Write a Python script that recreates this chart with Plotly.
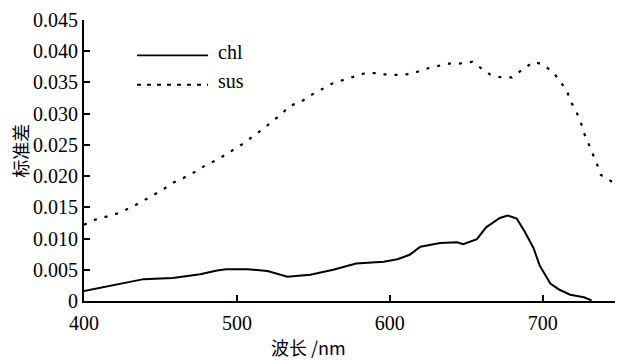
import plotly.graph_objects as go

# Data
chl_wl = [400, 410, 417, 439, 458, 476, 487, 493, 507, 520, 533, 548, 563, 578,
          596, 605, 613, 620, 633, 644, 648, 657, 663, 672, 677, 683, 688, 694,
          698, 705, 711, 718, 727, 732]
chl = [0.0016, 0.0021, 0.0024, 0.0035, 0.0037, 0.0043, 0.0049, 0.0051, 0.0051,
       0.0048, 0.0039, 0.0042, 0.0050, 0.0060, 0.0063, 0.0067, 0.0074, 0.0087,
       0.0093, 0.0094, 0.0091, 0.0099, 0.0118, 0.0133, 0.0137, 0.0132, 0.0112,
       0.0085, 0.0057, 0.0028, 0.0018, 0.0010, 0.0006, 0.0001]

sus_wl = [400, 407, 416, 423, 431, 438, 445, 452, 458, 465, 472, 480, 487, 493,
          499, 506, 511, 518, 524, 529, 534, 542, 548, 557, 563, 571, 584, 592,
          599, 607, 615, 622, 630, 638, 645, 654, 659, 666, 673, 680, 687, 694,
          700, 707, 711, 716, 718, 722, 725, 727, 730, 733, 736, 738, 744, 746]
sus = [0.0122, 0.0130, 0.0136, 0.0141, 0.0150, 0.0159, 0.0169, 0.0179, 0.0189,
       0.0197, 0.0206, 0.0218, 0.0226, 0.0235, 0.0244, 0.0255, 0.0265, 0.0277,
       0.0290, 0.0298, 0.0312, 0.0319, 0.0329, 0.0341, 0.0349, 0.0355, 0.0365,
       0.0365, 0.0362, 0.0362, 0.0364, 0.0371, 0.0376, 0.0380, 0.0380, 0.0383,
       0.0374, 0.0362, 0.0358, 0.0358, 0.0371, 0.0383, 0.0379, 0.0366, 0.0353,
       0.0336, 0.0321, 0.0303, 0.0286, 0.0269, 0.0252, 0.0235, 0.0216, 0.0202,
       0.0193, 0.0190]

x_ticks = [400, 500, 600, 700]
y_ticks = [0, 0.005, 0.010, 0.015, 0.020, 0.025, 0.030, 0.035, 0.040, 0.045]
y_tick_text = ["0", "0.005", "0.010", "0.015", "0.020", "0.025", "0.030",
               "0.035", "0.040", "0.045"]

FONT = "Liberation Serif, Times New Roman, Noto Sans CJK SC, serif"
CJK = "Noto Sans CJK SC, Liberation Serif, serif"

fig = go.Figure()
fig.add_trace(go.Scatter(x=chl_wl, y=chl, mode="lines", name="chl",
                         line=dict(color="black", width=2, dash="solid", shape="linear")))
fig.add_trace(go.Scatter(x=sus_wl, y=sus, mode="lines", name="sus",
                         line=dict(color="black", width=2.2, dash="3px,8px")))

W, H = 624, 361
L, R, T, B = 84, 9, 15, 60
pw, ph = W - L - R, H - T - B

def px(xp):
    return (xp - L) / pw

def py(yp):
    return (H - B - yp) / ph

shapes = [
    dict(type="line", xref="paper", yref="paper", x0=px(137), x1=px(208),
         y0=py(51), y1=py(51), line=dict(color="black", width=1.8)),
    dict(type="line", xref="paper", yref="paper", x0=px(137), x1=px(208),
         y0=py(81), y1=py(81), line=dict(color="black", width=2, dash="4px,6px")),
]
annotations = [
    dict(text="chl", xref="paper", yref="paper", x=px(216), y=py(48),
         xanchor="left", yanchor="middle", showarrow=False,
         font=dict(family=FONT, size=20, color="black")),
    dict(text="sus", xref="paper", yref="paper", x=px(216), y=py(77),
         xanchor="left", yanchor="middle", showarrow=False,
         font=dict(family=FONT, size=20, color="black")),
    dict(text="波长 /nm", xref="paper", yref="paper", x=px(308), y=py(348),
         xanchor="center", yanchor="middle", showarrow=False,
         font=dict(family=CJK, size=18, color="black")),
    dict(text="标准差", xref="paper", yref="paper", x=px(20), y=py(148),
         xanchor="center", yanchor="middle", showarrow=False, textangle=-90,
         font=dict(family=CJK, size=18, color="black")),
]

fig.update_layout(
    width=W, height=H,
    margin=dict(l=L, r=R, t=T, b=B, pad=0),
    paper_bgcolor="white", plot_bgcolor="white",
    showlegend=False,
    font=dict(family=FONT, size=20, color="black"),
    shapes=shapes, annotations=annotations,
    xaxis=dict(range=[400, 747.3], tickvals=x_ticks, ticks="inside", ticklen=6,
               tickwidth=1.5, tickcolor="black", showline=True, linewidth=2,
               linecolor="black", showgrid=False, zeroline=False,
               ticklabelstandoff=3,
               tickfont=dict(family=FONT, size=20, color="black")),
    yaxis=dict(range=[0, 0.045], tickvals=y_ticks, ticktext=y_tick_text,
               ticks="inside", ticklen=6, tickwidth=1.5, tickcolor="black",
               showline=True, linewidth=2, linecolor="black", showgrid=False,
               zeroline=False, ticklabelstandoff=0,
               tickfont=dict(family=FONT, size=20, color="black")),
)

fig.write_html("out.html")
